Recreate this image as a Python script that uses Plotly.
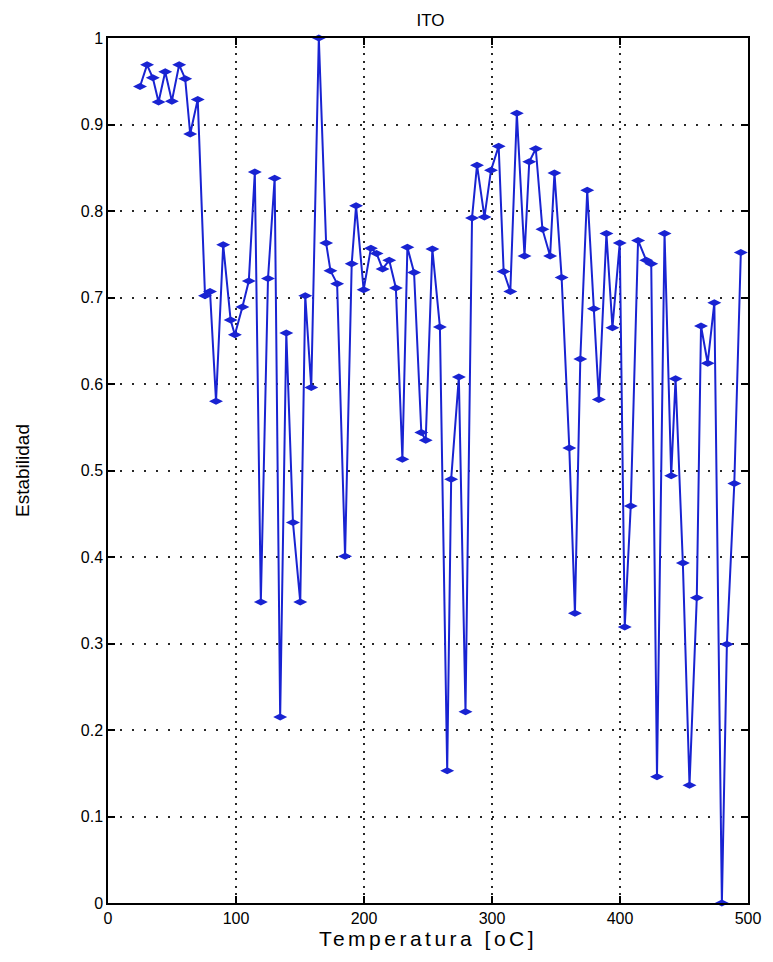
import plotly.graph_objects as go

temperatura = [25, 30.5, 35, 39.5, 44.7, 49.9, 55.6, 60.3, 64.2, 70.1,
               75.8, 79.7, 84.4, 90, 95.8, 99.1, 105, 110, 114.7, 119.4,
               125, 130.2, 134.5, 139.3, 144.5, 150.2, 154.1, 158.8, 164.7, 170.4,
               173.8, 179, 185.2, 190.4, 193.8, 199.7, 205.4, 209.8, 214.5, 219.7,
               224.9, 230, 233.9, 239.1, 244.8, 248.2, 253.4, 259.3, 265, 268.1,
               274.1, 279.3, 284.4, 288.3, 294.1, 299.2, 305.2, 309.1, 314.3, 319.4,
               325.4, 329.1, 334.2, 339.4, 345.4, 348.8, 354.4, 360.4, 364.8, 369,
               374.4, 379.6, 383.5, 389.4, 394.1, 399.8, 403.7, 408.4, 414.1, 420.5,
               424.4, 428.9, 434.8, 440, 443.4, 449.1, 454.3, 460, 463.3, 468.5,
               473.7, 479.6, 483.5, 489.3, 494.4]
estabilidad = [0.944, 0.969, 0.954, 0.926, 0.961, 0.927, 0.969, 0.953, 0.889, 0.929,
               0.702, 0.707, 0.580, 0.761, 0.674, 0.657, 0.689, 0.719, 0.845, 0.348,
               0.722, 0.838, 0.215, 0.659, 0.440, 0.348, 0.702, 0.596, 1.000, 0.763,
               0.731, 0.716, 0.401, 0.739, 0.806, 0.709, 0.757, 0.751, 0.733, 0.743,
               0.711, 0.513, 0.758, 0.729, 0.544, 0.535, 0.756, 0.666, 0.153, 0.490,
               0.608, 0.221, 0.792, 0.853, 0.793, 0.847, 0.875, 0.730, 0.707, 0.913,
               0.748, 0.857, 0.872, 0.779, 0.748, 0.844, 0.723, 0.526, 0.335, 0.629,
               0.824, 0.687, 0.582, 0.774, 0.665, 0.763, 0.319, 0.459, 0.766, 0.743,
               0.739, 0.146, 0.774, 0.494, 0.606, 0.393, 0.136, 0.353, 0.667, 0.624,
               0.694, 0.000, 0.299, 0.485, 0.752]

x_ticks = [0, 100, 200, 300, 400, 500]
y_ticks = [0, 0.1, 0.2, 0.3, 0.4, 0.5, 0.6, 0.7, 0.8, 0.9, 1]
y_ticktext = ["0", "0.1", "0.2", "0.3", "0.4", "0.5", "0.6", "0.7", "0.8", "0.9", "1"]

blue = "rgb(25,35,210)"
font = "Liberation Sans, Arial, sans-serif"

fig = go.Figure()
fig.add_trace(go.Scatter(
    x=temperatura, y=estabilidad, mode="lines+markers",
    line=dict(color=blue, width=2),
    marker=dict(symbol="diamond-wide", size=10, color=blue, line=dict(width=0)),
    cliponaxis=False, showlegend=False,
))

axis_common = dict(
    showline=True, linecolor="black", linewidth=1.5, mirror="allticks",
    ticks="inside", ticklen=7, tickcolor="black", tickwidth=1.5,
    showgrid=True, gridcolor="rgb(40,40,40)", gridwidth=1.5,
    zeroline=False, tickfont=dict(family=font, size=16, color="black"),
)

fig.update_xaxes(range=[0, 500], tickvals=x_ticks, griddash="2px,5.5px",
                 title=dict(text='<span style="letter-spacing:3.5px">Temperatura [oC]</span>',
                            font=dict(family=font, size=21, color="black"), standoff=4),
                 **axis_common)
fig.update_yaxes(range=[0, 1], tickvals=y_ticks, ticktext=y_ticktext, griddash="2px,10px",
                 title=dict(text="Estabilidad", font=dict(family=font, size=19, color="black"), standoff=46),
                 **axis_common)

fig.update_layout(
    width=773, height=962,
    margin=dict(l=108, r=22, t=38, b=59),
    paper_bgcolor="white", plot_bgcolor="white",
    title=dict(text="ITO", x=0.557, xanchor="center", y=0.979, yanchor="middle",
               font=dict(family=font, size=17, color="black")),
)

fig.write_html("out.html")
